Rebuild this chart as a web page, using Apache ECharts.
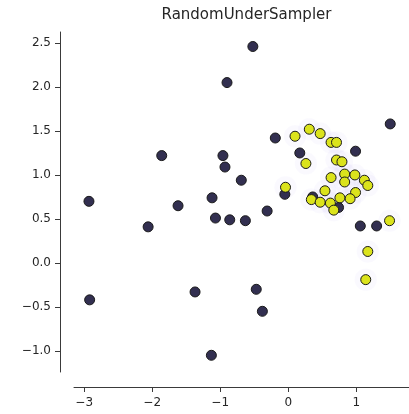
<!DOCTYPE html>
<html>
<head>
<meta charset="utf-8">
<script src="https://cdn.jsdelivr.net/npm/echarts@6/dist/echarts.min.js"></script>
<style>
  html, body { margin: 0; padding: 0; background: #ffffff; }
  #chart { width: 409px; height: 414px; }
</style>
</head>
<body>
<div id="chart"></div>
<script>
// Class 0 samples kept after under-sampling
const class0X = [-2.93, -2.92, -2.06, -1.62, -1.12, -1.07, -0.86, -0.63, -0.31, -0.69,
                 -1.37, -0.47, -0.38, -1.13, -1.86, -0.96, -0.93, -0.52, -0.90, -0.19,
                 0.17, 1.50, 0.99, 1.06, 1.30, -0.05, 0.36, 0.74];
const class0Y = [0.70, -0.42, 0.41, 0.65, 0.74, 0.51, 0.49, 0.48, 0.59, 0.94,
                 -0.33, -0.30, -0.55, -1.05, 1.22, 1.22, 1.09, 2.46, 2.05, 1.42,
                 1.25, 1.58, 1.27, 0.42, 0.42, 0.78, 0.75, 0.63];

// Class 1 samples
const class1X = [0.31, 0.47, 0.10, 0.63, 0.71, 0.26, 0.71, 0.79, 0.83, 0.98,
                 0.63, 0.83, 1.12, 1.17, -0.04, 0.54, 0.99, 0.91, 0.76, 0.34,
                 0.47, 0.62, 0.67, 1.49, 1.17, 1.14];
const class1Y = [1.52, 1.47, 1.44, 1.37, 1.37, 1.13, 1.17, 1.15, 1.01, 1.00,
                 0.97, 0.92, 0.94, 0.88, 0.86, 0.82, 0.80, 0.73, 0.74, 0.72,
                 0.69, 0.68, 0.60, 0.48, 0.13, -0.19];

const xTicks = [-3, -2, -1, 0, 1];
const yTicks = [-1.0, -0.5, 0.0, 0.5, 1.0, 1.5, 2.0, 2.5];
const titleText = 'RandomUnderSampler';

const zip = (xs, ys) => xs.map((x, i) => [x, ys[i]]);
const fmt = (v, d) => {
  const s = Math.abs(v).toFixed(d);
  return (v < 0 ? '\u2212' : '') + s;
};

const font = 'DejaVu Sans';
const ink = '#262626';

const chart = echarts.init(document.getElementById('chart'), null, { renderer: 'canvas' });
chart.setOption({
  animation: false,
  backgroundColor: '#ffffff',
  title: {
    text: titleText,
    left: 241.5,
    textAlign: 'center',
    top: 3,
    textStyle: { fontFamily: font, fontSize: 15, fontWeight: 'normal', color: ink }
  },
  grid: { left: 74, right: 0, top: 32, bottom: 42 },
  xAxis: {
    type: 'value',
    min: -3.15,
    max: 1.776,
    offset: 15,
    splitLine: { show: false },
    axisLine: { show: true, onZero: false, lineStyle: { color: '#3a3a3a', width: 1 } },
    axisTick: { show: true, length: 5, customValues: xTicks, lineStyle: { color: '#3a3a3a' } },
    axisLabel: {
      customValues: xTicks,
      margin: 10,
      fontFamily: font, fontSize: 12, color: ink,
      formatter: v => fmt(v, 0)
    }
  },
  yAxis: {
    type: 'value',
    min: -1.24,
    max: 2.625,
    offset: 14,
    splitLine: { show: false },
    axisLine: { show: true, onZero: false, lineStyle: { color: '#3a3a3a', width: 1 } },
    axisTick: { show: true, length: 5, customValues: yTicks, lineStyle: { color: '#3a3a3a' } },
    axisLabel: {
      customValues: yTicks,
      margin: 9,
      fontFamily: font, fontSize: 12, color: ink,
      formatter: v => fmt(v, 1)
    }
  },
  series: [
    {
      // faint halo around the dense class-1 region
      type: 'scatter',
      data: zip(class1X, class1Y),
      symbolSize: 22,
      silent: true,
      itemStyle: {
        color: 'rgba(190,175,235,0.06)',
        opacity: 1,
        shadowBlur: 16,
        shadowColor: 'rgba(160,140,225,0.22)'
      },
      z: 1
    },
    {
      type: 'scatter',
      data: zip(class0X, class0Y),
      symbolSize: 10,
      itemStyle: { color: '#322f50', opacity: 1, borderColor: '#1a1a1a', borderWidth: 1 },
      z: 3
    },
    {
      type: 'scatter',
      data: zip(class1X, class1Y),
      symbolSize: 10,
      itemStyle: { color: '#dbe31c', opacity: 1, borderColor: '#1a1a1a', borderWidth: 1 },
      z: 4
    }
  ]
});
</script>
</body>
</html>
